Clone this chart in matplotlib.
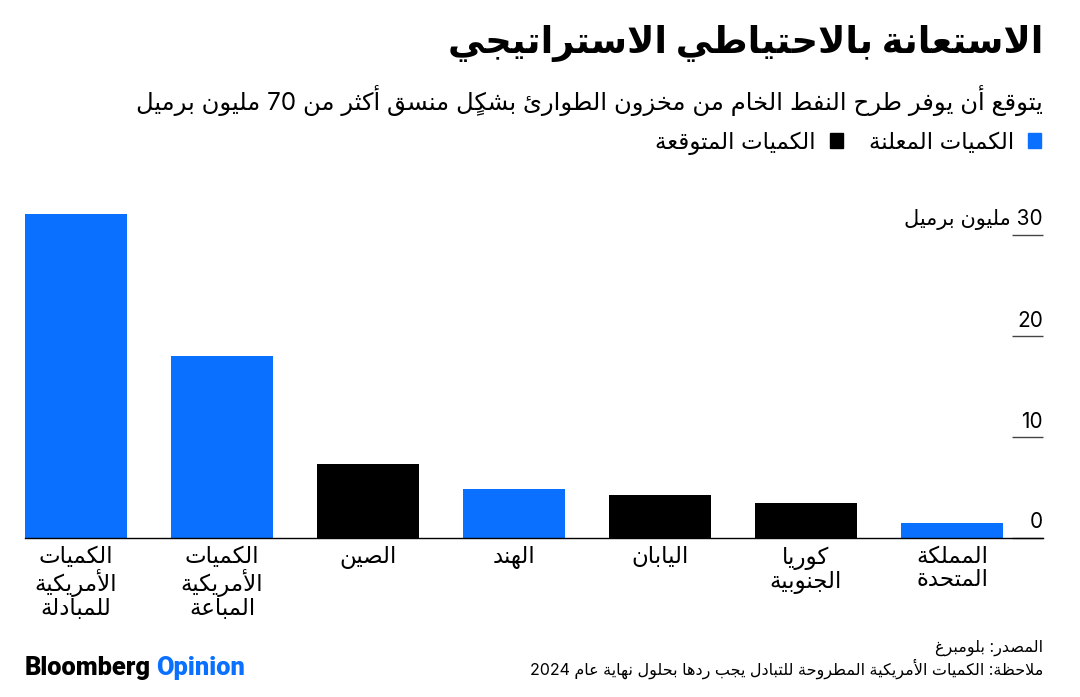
import re
import matplotlib
matplotlib.use("Agg")
import matplotlib.pyplot as plt
from matplotlib.patches import Patch

# data
categories = ["الكميات\nالأمريكية\nللمبادلة", "الكميات\nالأمريكية\nالمباعة", "الصين", "الهند",
              "اليابان", "كوريا\nالجنوبية", "المملكة\nالمتحدة"]
volumes = [32.1, 18.0, 7.3, 4.85, 4.25, 3.5, 1.5]
status = ["announced", "announced", "expected", "announced", "expected", "expected", "announced"]
y_ticks = [0, 10, 20, 30]
y_tick_labels = ["0", "10", "20", "30 مليون برميل"]

title = "الاستعانة بالاحتياطي الاستراتيجي"
subtitle = "يتوقع أن يوفر طرح النفط الخام من مخزون الطوارئ بشكلٍ منسق أكثر من 70 مليون برميل"
legend_labels = {"announced": "الكميات المعلنة", "expected": "الكميات المتوقعة"}
source = "المصدر: بلومبرغ"
note = "ملاحظة: الكميات الأمريكية المطروحة للتبادل يجب ردها بحلول نهاية عام 2024"

BLUE = "#0A70FF"
colors = {"announced": BLUE, "expected": "#000000"}

# --- minimal Arabic shaping + right-to-left ordering (no reshaper libs here)
ISO = {
    "ء": 0xFE80, "آ": 0xFE81, "أ": 0xFE83, "ؤ": 0xFE85, "إ": 0xFE87, "ئ": 0xFE89,
    "ا": 0xFE8D, "ب": 0xFE8F, "ة": 0xFE93, "ت": 0xFE95, "ث": 0xFE99, "ج": 0xFE9D,
    "ح": 0xFEA1, "خ": 0xFEA5, "د": 0xFEA9, "ذ": 0xFEAB, "ر": 0xFEAD, "ز": 0xFEAF,
    "س": 0xFEB1, "ش": 0xFEB5, "ص": 0xFEB9, "ض": 0xFEBD, "ط": 0xFEC1, "ظ": 0xFEC5,
    "ع": 0xFEC9, "غ": 0xFECD, "ف": 0xFED1, "ق": 0xFED5, "ك": 0xFED9, "ل": 0xFEDD,
    "م": 0xFEE1, "ن": 0xFEE5, "ه": 0xFEE9, "و": 0xFEED, "ى": 0xFEEF, "ي": 0xFEF1,
}
DUAL = set("ئبتثجحخسشصضطظعغفقكلمنهي")
LAM_ALEF = {"آ": 0xFEF5, "أ": 0xFEF7, "إ": 0xFEF9, "ا": 0xFEFB}
MARKS = "\u064B-\u0652"


def is_mark(c):
    return "\u064B" <= c <= "\u0652"


def shape_line(text):
    chars = list(text)
    n = len(chars)
    out = []

    def neighbour(i, step):
        j = i + step
        while 0 <= j < n and is_mark(chars[j]):
            j += step
        return j if 0 <= j < n else None

    i = 0
    while i < n:
        c = chars[i]
        if c not in ISO:
            out.append(c)
            i += 1
            continue
        p = neighbour(i, -1)
        join_prev = p is not None and chars[p] in DUAL
        nx = neighbour(i, 1)
        if c == "ل" and nx is not None and chars[nx] in LAM_ALEF:
            code = LAM_ALEF[chars[nx]] + (1 if join_prev else 0)
            out.append(chr(code))
            out.extend(chars[i + 1:nx])
            i = nx + 1
            continue
        join_next = c in DUAL and nx is not None and chars[nx] in ISO and chars[nx] != "ء"
        base = ISO[c]
        if c == "ء":
            code = base
        elif c in DUAL:
            code = base + [[0, 2], [1, 3]][join_prev][join_next]
        else:
            code = base + (1 if join_prev else 0)
        out.append(chr(code))
        i += 1
    shaped = "".join(out)
    clusters = re.findall(r"[0-9A-Za-z]+|.[" + MARKS + "]*", shaped)
    return "".join(reversed(clusters))


def ar(text):
    return "\n".join(shape_line(line) for line in text.split("\n"))


FONT = ["Inter", "DejaVu Sans"]
plt.rcParams["font.family"] = FONT

W, H = 1080, 697
fig = plt.figure(figsize=(W / 100, H / 100), dpi=100)
fig.patch.set_facecolor("white")

left, right, base_y, top_y = 25, 1043, 538, 205
ax = fig.add_axes([left / W, 1 - base_y / H, (right - left) / W, (base_y - top_y) / H])

x = list(range(len(categories)))
ax.bar(x, volumes, width=0.70, color=[colors[s] for s in status], zorder=2)

ax.set_xlim(-0.35, len(categories) - 1 + 0.623)
ax.set_ylim(0, 33)

for side in ["top", "left", "right"]:
    ax.spines[side].set_visible(False)
ax.spines["bottom"].set_color("black")
ax.spines["bottom"].set_linewidth(1.0)

ax.set_xticks(x)
ax.set_xticklabels([ar(c) for c in categories], fontsize=16.5, linespacing=1.05,
                   va="top", ha="center")
ax.tick_params(axis="x", length=0, pad=6)

ax.yaxis.tick_right()
ax.set_yticks(y_ticks)
ax.tick_params(axis="y", direction="in", length=22, width=1, color="#444444",
               labelright=False, labelleft=False)
for v, lab in zip(y_ticks, y_tick_labels):
    ax.annotate(ar(lab), xy=(1, v), xycoords=ax.get_yaxis_transform(),
                xytext=(0, 4), textcoords="offset points", ha="right", va="bottom",
                fontsize=15, color="black")

# titles
fig.text(right / W, 1 - 44 / H, ar(title), ha="right", va="center", fontsize=26.5,
         fontweight="bold", color="black")
fig.text(right / W, 1 - 101 / H, ar(subtitle), ha="right", va="center", fontsize=17.5,
         color="black")

# legend (right to left: announced first)
handles = [Patch(color=colors["expected"]), Patch(color=colors["announced"])]
labels = [ar(legend_labels["expected"]), ar(legend_labels["announced"])]
fig.legend(handles, labels, loc="center right", bbox_to_anchor=(right / W + 0.009, 1 - 143 / H),
           ncol=2, markerfirst=False, frameon=False, fontsize=16.5, handlelength=0.6,
           handleheight=0.6, handletextpad=0.6, columnspacing=1.1, borderpad=0)

# footer
fig.text(right / W, 1 - 648 / H, ar(source), ha="right", va="center", fontsize=11.5)
fig.text(right / W, 1 - 669 / H, ar(note), ha="right", va="center", fontsize=11.5)

logo = fig.text(left / W, 1 - 668 / H, "Bloomberg", ha="left", va="center", fontsize=18.3,
                fontweight="heavy", family="Roboto", color="black")
fig.canvas.draw()
bb = logo.get_window_extent()
fig.text((bb.x1 + 5) / W, 1 - 668 / H, "Opinion", ha="left", va="center", fontsize=18.3,
         fontweight="heavy", family="Roboto", color=BLUE)

fig.savefig("out.png", dpi=100)
